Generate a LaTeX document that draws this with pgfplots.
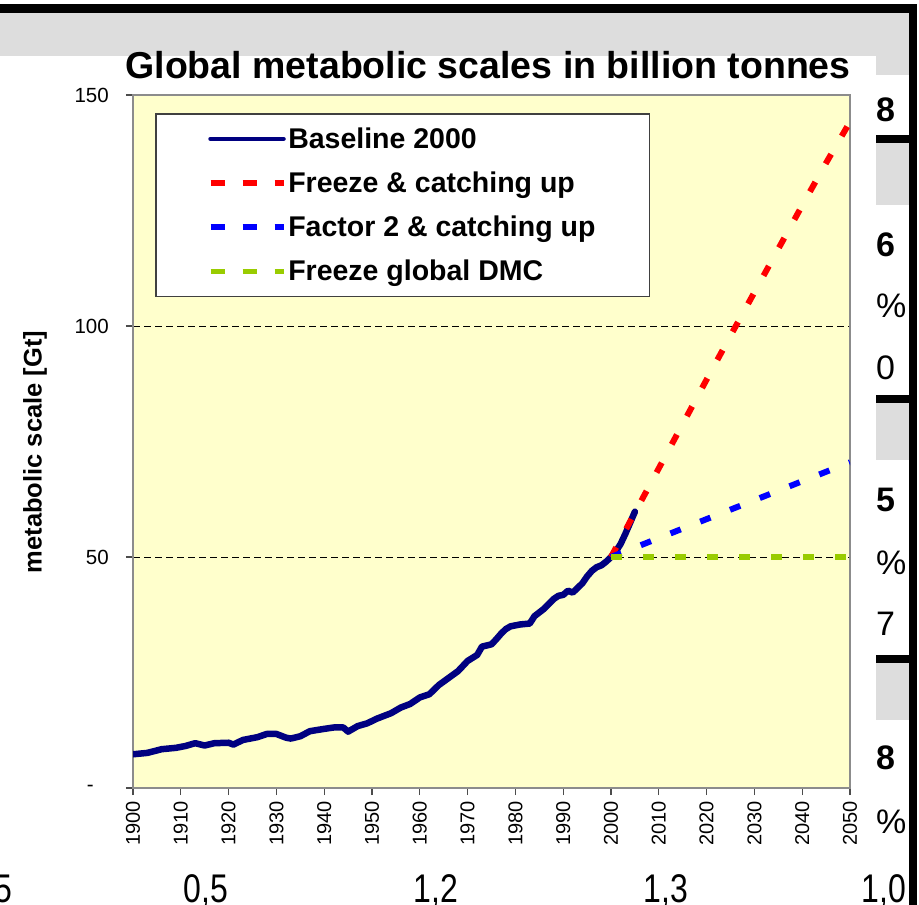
\documentclass[border=0pt]{standalone}
\usepackage{fontspec}
\setmainfont{Liberation Sans}
\usepackage{graphicx}
\usepackage{pgfplots}
\pgfplotsset{compat=1.18}
\definecolor{plotbg}{HTML}{FFFFCC}
\definecolor{navy}{HTML}{000080}
\definecolor{dmcgreen}{HTML}{99CC00}
\definecolor{panelgray}{HTML}{DDDDDD}
\newcommand\fs[1]{\fontsize{#1}{#1}\selectfont}

\begin{document}
\begin{tikzpicture}
\useasboundingbox (0pt,0pt) rectangle (919pt,-905pt);
\begin{scope}
\clip (0pt,0pt) rectangle (919pt,-905pt);
\begin{scope}[x=1pt,y=1pt]
% panel backgrounds and frame
\fill[panelgray] (0,-13) rectangle (909,-56);
\fill[panelgray] (876,-56) rectangle (909,-75);
\fill[panelgray] (876,-143) rectangle (909,-205);
\fill[panelgray] (876,-403) rectangle (909,-460);
\fill[panelgray] (876,-663) rectangle (909,-720);
\fill[black] (0,-4) rectangle (917,-13);
\fill[black] (909,-4) rectangle (917,-905);
\fill[black] (876,-135) rectangle (909,-143);
\fill[black] (876,-395) rectangle (909,-403);
\fill[black] (876,-655) rectangle (909,-663);
\end{scope}

\begin{axis}[
  at={(133pt,-788pt)}, anchor=south west,
  scale only axis, width=717pt, height=693pt,
  xmin=1900, xmax=2050, ymin=0, ymax=150,
  xtick={1900,1910,...,2050},
  xticklabels={1900,1910,1920,1930,1940,1950,1960,1970,1980,1990,2000,2010,2020,2030,2040,2050},
  ytick={0,50,100,150},
  yticklabels={\makebox[22pt][l]{-},50,100,150},
  xtick pos=left, ytick pos=left,
  tick align=outside, major tick length=7pt,
  tick style={color=black!70, line width=1.2pt},
  xticklabel style={rotate=90, anchor=east, inner sep=0pt, font=\fs{20}, xshift=-6pt},
  yticklabel style={anchor=east, inner sep=0pt, font=\fs{20.5}, xshift=-17pt},
  axis line style={draw=black!45, line width=2pt},
  axis background/.style={fill=plotbg},
  ymajorgrids,
  grid style={black, line width=0.9pt, dash pattern=on 7pt off 4pt},
  legend style={
    at={(axis description cs:0.0307,0.974)}, anchor=north west,
    draw=black!75, line width=1.5pt, fill=white,
    inner xsep=52pt, inner ysep=12pt,
    font=\fs{28.5}\bfseries,
    row sep=18pt,
    cells={anchor=west},
  },
  legend image code/.code={%
    \draw[#1] (0pt,0pt) -- (70pt,0pt);
    \path (-3pt,0pt) -- (68pt,0pt);},
]
% historical series
\addplot[navy, line width=6.5pt, line join=round, line cap=round,
  legend image post style={line width=4.5pt}] coordinates {
(1900,7.3)(1903,7.6)(1906,8.4)(1909,8.7)(1911,9.1)(1913,9.7)(1915,9.2)(1917,9.7)
(1920,9.8)(1921,9.4)(1923,10.4)(1926,11.0)(1928,11.7)(1930,11.7)(1932,10.9)(1933,10.7)
(1935,11.2)(1937,12.3)(1940,12.8)(1942,13.1)(1944,13.1)(1945,12.2)(1947,13.4)(1949,14.0)
(1951,15.0)(1954,16.2)(1956,17.4)(1958,18.2)(1960,19.6)(1962,20.3)(1964,22.3)(1966,23.8)
(1968,25.3)(1970,27.5)(1972,28.8)(1973,30.6)(1975,31.1)(1976,32.2)(1977,33.4)(1978,34.4)
(1979,35.0)(1981,35.4)(1983,35.6)(1984,37.2)(1986,38.8)(1988,40.9)(1989,41.6)(1990,41.8)
(1991,42.7)(1992,42.3)(1994,44.3)(1995,45.8)(1996,47.0)(1997,47.8)(1998,48.2)(1999,49.0)
(2000,50.0)(2001,51.2)(2002,52.8)(2003,55.0)(2004,57.4)(2005,59.8)};
\addlegendentry{Baseline 2000}
% scenarios
\addplot[red, line width=6pt, dash pattern=on 11pt off 21pt,
  legend image post style={line width=5.5pt}] coordinates {
(2000,50.0)(2005,59.6)(2010,69.2)(2015,78.8)(2020,88.4)(2025,97.9)
(2030,107.3)(2035,116.7)(2040,126.1)(2045,135.3)(2050,144.2)};
\addlegendentry{Freeze \& catching up}
\addplot[blue, line width=6pt, dash pattern=on 11pt off 21pt,
  legend image post style={line width=5.5pt}] coordinates {
(2000,50.0)(2010,54.1)(2020,58.2)(2030,62.3)(2040,66.4)(2050,70.5)};
\addlegendentry{Factor 2 \& catching up}
\addplot[dmcgreen, line width=6pt, dash pattern=on 11pt off 21pt,
  legend image post style={line width=5.5pt}] coordinates {
(2000,50.0)(2050,50.0)};
\addlegendentry{Freeze global DMC}
\end{axis}

\begin{scope}[x=1pt,y=1pt]
% titles
\node[anchor=base, inner sep=0pt, font=\fs{37.5}\bfseries] at (488,-78)
  {Global metabolic scales in billion tonnes};
\node[rotate=90, inner sep=0pt, font=\fs{25.5}\bfseries] at (35,-452)
  {metabolic scale [Gt]};

% side column
\begin{scope}[every node/.style={anchor=west, inner sep=0pt}]
\node[font=\fs{34}\bfseries] at (876,-110) {8};
\node[font=\fs{34}\bfseries] at (876,-245) {6};
\node[font=\fs{34}] at (876,-306) {\%};
\node[font=\fs{34}] at (876,-368) {0};
\node[font=\fs{34}\bfseries] at (876,-500) {5};
\node[font=\fs{34}] at (876,-563) {\%};
\node[font=\fs{34}] at (876,-624) {7};
\node[font=\fs{34}\bfseries] at (876,-758) {8};
\node[font=\fs{34}] at (876,-822) {\%};
\end{scope}

% bottom row
\begin{scope}[every node/.style={anchor=base, inner sep=0pt, font=\fs{40}}]
\node[anchor=base east] at (12,-902) {\scalebox{0.8}[1]{0,5}};
\node at (206,-902) {\scalebox{0.8}[1]{0,5}};
\node at (436,-902) {\scalebox{0.8}[1]{1,2}};
\node at (666,-902) {\scalebox{0.8}[1]{1,3}};
\node at (884,-902) {\scalebox{0.8}[1]{1,0}};
\end{scope}
\end{scope}
\end{scope}
\end{tikzpicture}
\end{document}
